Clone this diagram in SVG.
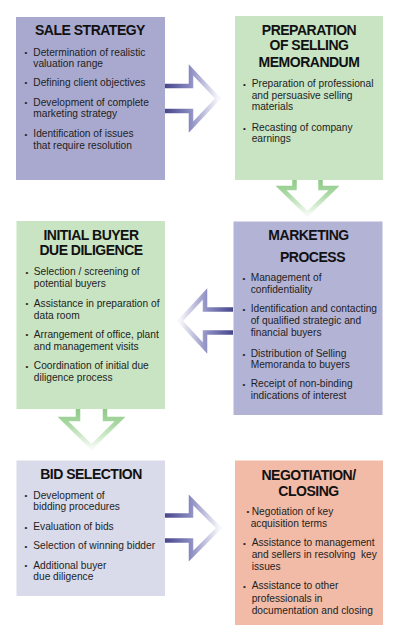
<svg xmlns="http://www.w3.org/2000/svg" width="401" height="636" viewBox="0 0 401 636">
<defs>
<linearGradient id="gR" x1="0" y1="0" x2="1" y2="0">
<stop offset="0" stop-color="#46468a"/><stop offset="0.45" stop-color="#8787bf"/><stop offset="1" stop-color="#f6f6fb"/>
</linearGradient>
<linearGradient id="gL" x1="1" y1="0" x2="0" y2="0">
<stop offset="0" stop-color="#46468a"/><stop offset="0.45" stop-color="#8787bf"/><stop offset="1" stop-color="#f6f6fb"/>
</linearGradient>
<linearGradient id="gD" x1="0" y1="0" x2="0" y2="1">
<stop offset="0" stop-color="#8fca87"/><stop offset="0.4" stop-color="#a9d8a2"/><stop offset="1" stop-color="#f4faf3"/>
</linearGradient>
</defs>
<style>
.t{font-family:"Liberation Sans",Arial,sans-serif;font-weight:bold;font-size:14px;fill:#111;text-anchor:middle;letter-spacing:-0.5px}
.b{font-family:"Liberation Sans",Arial,sans-serif;font-size:10.2px;fill:#1e1e1e}
.d{font-family:"Liberation Sans",Arial,sans-serif;font-size:8px;fill:#1e1e1e}
.ar{fill:none;stroke-width:4.5;stroke-linejoin:miter}
</style>
<g id="connectors">
<path class="ar" stroke="url(#gR)" d="M165,86 H191 V70 L218,98.5 L191,127 V111 H165"/>
<path class="ar" stroke="url(#gL)" d="M233,309.5 H205 V294 L180,321 L205,348 V332.5 H233"/>
<path class="ar" stroke="url(#gR)" d="M165,515.5 H191 V500 L219,528 L191,556 V540.5 H165"/>
<path class="ar" stroke="url(#gD)" d="M294.5,180 V188 H281 L307.5,214 L334,188 H320.5 V180"/>
<path class="ar" stroke="url(#gD)" d="M78,409 V419 H63 L91.5,447 L120,419 H105 V409"/>
</g>
<g id="sale-strategy">
<rect x="16" y="17" width="149" height="163" fill="#a9a9cf"/>
<text class="t" x="90" y="35">SALE STRATEGY</text>
<text class="d" x="24.5" y="55">•</text><text class="b" x="33.3" y="55.5">Determination of realistic</text>
<text class="b" x="33.3" y="66.5">valuation range</text>
<text class="d" x="24.5" y="85">•</text><text class="b" x="33.3" y="85.5">Defining client objectives</text>
<text class="d" x="24.5" y="105">•</text><text class="b" x="33.3" y="105.5">Development of complete</text>
<text class="b" x="33.3" y="117">marketing strategy</text>
<text class="d" x="24.5" y="136.5">•</text><text class="b" x="33.3" y="137">Identification of issues</text>
<text class="b" x="33.3" y="148.5">that require resolution</text>
</g>
<g id="preparation">
<rect x="235" y="16" width="148" height="164" fill="#c8e4c3"/>
<text class="t" x="309" y="35">PREPARATION</text>
<text class="t" x="309" y="50">OF SELLING</text>
<text class="t" x="309" y="66.5">MEMORANDUM</text>
<text class="d" x="243" y="86.5">•</text><text class="b" x="251.7" y="87">Preparation of professional</text>
<text class="b" x="251.7" y="98.5">and persuasive selling</text>
<text class="b" x="251.7" y="110">materials</text>
<text class="d" x="243" y="130.5">•</text><text class="b" x="251.7" y="131">Recasting of company</text>
<text class="b" x="251.7" y="142">earnings</text>
</g>
<g id="initial-buyer">
<rect x="16.5" y="221" width="148.5" height="188" fill="#c8e4c3"/>
<text class="t" x="91" y="240">INITIAL BUYER</text>
<text class="t" x="91" y="255">DUE DILIGENCE</text>
<text class="d" x="25.5" y="275">•</text><text class="b" x="33.8" y="275.3">Selection / screening of</text>
<text class="b" x="33.8" y="286.6">potential buyers</text>
<text class="d" x="25.5" y="306">•</text><text class="b" x="33.8" y="306.6">Assistance in preparation of</text>
<text class="b" x="33.8" y="318.6">data room</text>
<text class="d" x="25.5" y="337">•</text><text class="b" x="33.8" y="337.6">Arrangement of office, plant</text>
<text class="b" x="33.8" y="350">and management visits</text>
<text class="d" x="25.5" y="368.5">•</text><text class="b" x="33.8" y="369">Coordination of initial due</text>
<text class="b" x="33.8" y="381">diligence process</text>
</g>
<g id="marketing">
<rect x="233.5" y="221.5" width="149" height="193.5" fill="#b3b3d6"/>
<text class="t" x="308.5" y="240">MARKETING</text>
<text class="t" x="312.5" y="261.5">PROCESS</text>
<text class="d" x="242.5" y="281">•</text><text class="b" x="250.7" y="281.3">Management of</text>
<text class="b" x="250.7" y="293">confidentiality</text>
<text class="d" x="242.5" y="311.5">•</text><text class="b" x="250.7" y="312">Identification and contacting</text>
<text class="b" x="250.7" y="324.3">of qualified strategic and</text>
<text class="b" x="250.7" y="336.3">financial buyers</text>
<text class="d" x="242.5" y="356.5">•</text><text class="b" x="250.7" y="357">Distribution of Selling</text>
<text class="b" x="250.7" y="368">Memoranda to buyers</text>
<text class="d" x="242.5" y="386.5">•</text><text class="b" x="250.7" y="387">Receipt of non-binding</text>
<text class="b" x="250.7" y="398.6">indications of interest</text>
</g>
<g id="bid-selection">
<rect x="16.5" y="460.5" width="148.5" height="135.5" fill="#d9daea"/>
<text class="t" x="91" y="478.5">BID SELECTION</text>
<text class="d" x="24.5" y="498">•</text><text class="b" x="33.3" y="498.6">Development of</text>
<text class="b" x="33.3" y="510.3">bidding procedures</text>
<text class="d" x="24.5" y="530">•</text><text class="b" x="33.3" y="530.3">Evaluation of bids</text>
<text class="d" x="24.5" y="549">•</text><text class="b" x="33.3" y="549.3">Selection of winning bidder</text>
<text class="d" x="24.5" y="568">•</text><text class="b" x="33.3" y="568.6">Additional buyer</text>
<text class="b" x="33.3" y="580.3">due diligence</text>
</g>
<g id="negotiation">
<rect x="235" y="460.5" width="148" height="164.5" fill="#f1bba7"/>
<text class="t" x="308.5" y="479.5">NEGOTIATION/</text>
<text class="t" x="308.5" y="495.7">CLOSING</text>
<text class="d" x="246.5" y="514">•</text><text class="b" x="251.7" y="514.6">Negotiation of key</text>
<text class="b" x="250.7" y="527">acquisition terms</text>
<text class="d" x="243" y="546">•</text><text class="b" x="251.7" y="546.3">Assistance to management</text>
<text class="b" x="251.7" y="558" xml:space="preserve">and sellers in resolving  key</text>
<text class="b" x="251.7" y="570.3">issues</text>
<text class="d" x="243" y="589">•</text><text class="b" x="251.7" y="589.3">Assistance to other</text>
<text class="b" x="251.7" y="602">professionals in</text>
<text class="b" x="251.7" y="613.6">documentation and closing</text>
</g>
</svg>
